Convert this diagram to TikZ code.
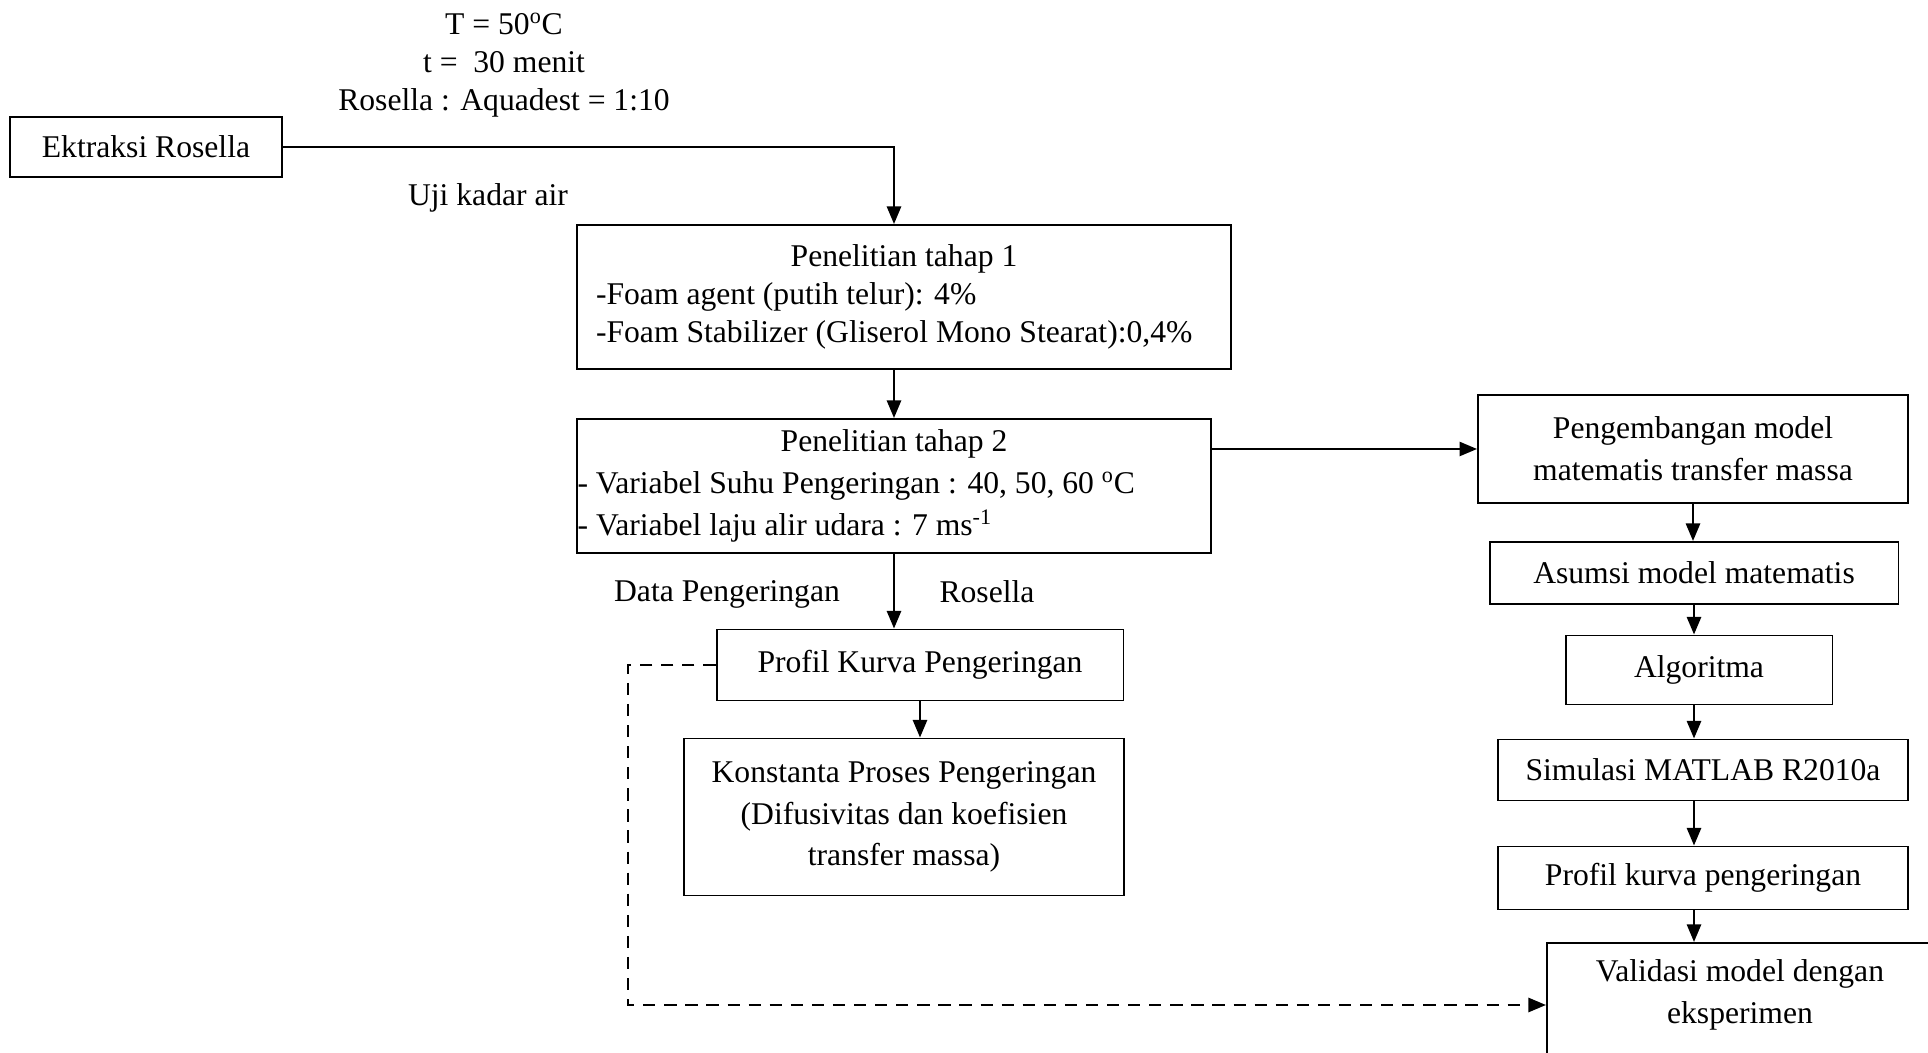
\documentclass[tikz,border=0pt]{standalone}
\usepackage{fontspec}
\setmainfont{Liberation Serif}
\usetikzlibrary{arrows.meta}

\begin{document}
\begin{tikzpicture}[x=0.02cm, y=-0.02cm,
    font=\fontsize{18}{21.5}\selectfont,
    box/.style={draw, line width=1.1pt, inner sep=0pt, align=center},
    wide/.style={font=\fontsize{18}{23.8}\selectfont},
    arr/.style={line width=1.4pt, -{Triangle[length=10pt,width=8pt]}},
    dashline/.style={line width=1.4pt, dash pattern=on 7pt off 5pt, -{Triangle[length=10pt,width=8pt]}}]

    % Fix the page to the full picture
    \useasboundingbox (0,0) rectangle (1928,1053);
    \clip (0,0) rectangle (1928,1053);

    % Extraction step and its conditions
    \node[box, minimum width=5.44cm, minimum height=1.2cm] (ekstraksi) at (146,147) {Ektraksi Rosella};
    \node[align=center] (kondisi) at (504,65) {T = 50\textsuperscript{o}C\\ t = \ 30 menit\\ Rosella : Aquadest = 1:10};
    \node (uji) at (488,198) {Uji kadar air};

    % Research stages
    \node[box, align=flush left, inner xsep=0.38cm, text width=12.32cm, minimum height=2.88cm] (tahap1) at (904,297)
        {\makebox[\linewidth]{Penelitian tahap 1}\\ -Foam agent (putih telur): 4\%\\ -Foam Stabilizer (Gliserol Mono Stearat):0,4\%};
    \node[box, wide, align=flush left, inner xsep=0.02cm, text width=12.66cm, minimum height=2.68cm] (tahap2) at (894,486)
        {\makebox[\linewidth]{Penelitian tahap 2}\\ - Variabel Suhu Pengeringan : 40, 50, 60 \textsuperscript{o}C\\ - Variabel laju alir udara : 7 ms\textsuperscript{-1}};

    % Experimental branch
    \node (data) at (727,594) {Data Pengeringan};
    \node (rosella) at (987,592) {Rosella};
    \node[box, minimum width=8.14cm, minimum height=1.42cm] (profil) at (920,665) {Profil Kurva Pengeringan};
    \node[box, wide, minimum width=8.8cm, minimum height=3.14cm] (konstanta) at (904,817)
        {Konstanta Proses Pengeringan\\ (Difusivitas dan koefisien\\ transfer massa)};

    % Modelling branch
    \node[box, wide, minimum width=8.6cm, minimum height=2.16cm] (model) at (1693,449) {Pengembangan model\\ matematis transfer massa};
    \node[box, minimum width=8.18cm, minimum height=1.24cm] (asumsi) at (1694,573) {Asumsi model matematis};
    \node[box, minimum width=5.34cm, minimum height=1.38cm] (algoritma) at (1699,670) {Algoritma};
    \node[box, minimum width=8.2cm, minimum height=1.22cm] (simulasi) at (1703,770) {Simulasi MATLAB R2010a};
    \node[box, minimum width=8.2cm, minimum height=1.26cm] (profilsim) at (1703,878) {Profil kurva pengeringan};
    \node[box, anchor=north west, minimum width=7.84cm, minimum height=2.8cm] (validasi) at (1546,942) {};
    \node[wide, align=center] (validasiteks) at (1740,995) {Validasi model dengan\\ eksperimen};

    % Draw the main flow
    \draw[arr] (ekstraksi.east) -| (tahap2.north |- tahap1.north);
    \draw[arr] (tahap2.north |- tahap1.south) -- (tahap2.north);
    \draw[arr] (tahap2.east |- model.west) -- (model.west);
    \draw[arr] (tahap2.south) -- (tahap2.south |- profil.north);
    \draw[arr] (profil.south) -- (profil.south |- konstanta.north);

    % Draw the model chain
    \draw[arr] (model.south) -- (model.south |- asumsi.north);
    \draw[arr] (asumsi.south) -- (asumsi.south |- algoritma.north);
    \draw[arr] (algoritma.south -| asumsi) -- (asumsi |- simulasi.north);
    \draw[arr] (simulasi.south -| asumsi) -- (asumsi |- profilsim.north);
    \draw[arr] (profilsim.south -| asumsi) -- (asumsi |- validasi.north);

    % Draw the dashed validation link
    \coordinate (belok) at (628,1005);
    \draw[dashline] (profil.west) -| (belok) -- (belok -| validasi.west);

\end{tikzpicture}
\end{document}
